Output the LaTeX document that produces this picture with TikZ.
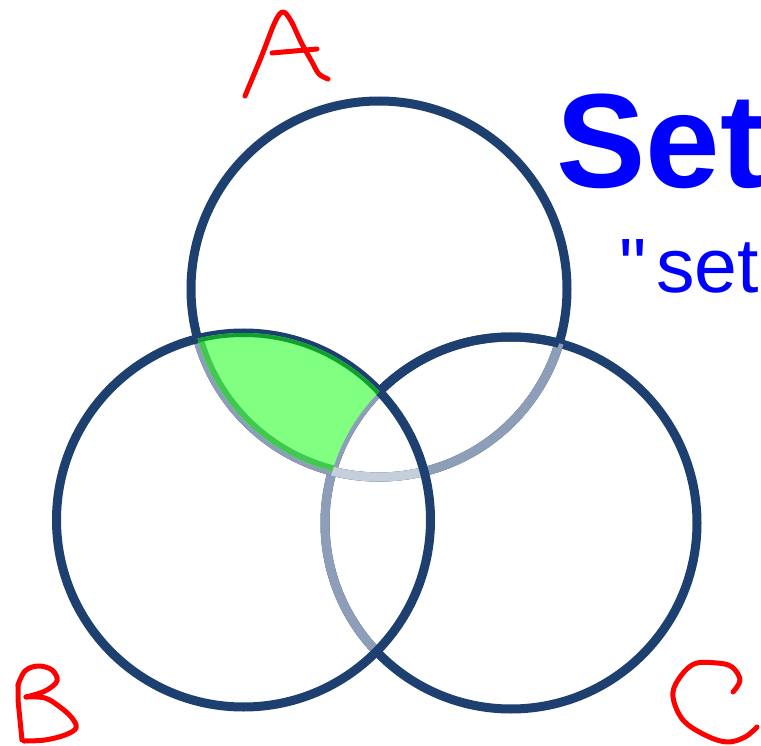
\documentclass[tikz,border=0pt]{standalone}
\usepackage{fontspec}
\setmainfont{Liberation Sans}
\newfontfamily\subfont{Liberation Sans}
\definecolor{navy}{RGB}{30,64,112}
\definecolor{midgray}{RGB}{140,158,184}
\definecolor{lightgr}{RGB}{197,207,220}
\definecolor{gfill}{RGB}{128,255,128}
\definecolor{gborder}{RGB}{64,200,80}
\definecolor{gdark}{RGB}{16,160,48}
\definecolor{tblue}{RGB}{0,0,255}
\definecolor{hred}{RGB}{255,0,0}
\tikzset{
  ring/.style={line width=9pt},
  hand/.style={draw=hred, line width=5pt, line cap=round, line join=round},
  lbl/.style={inner sep=0pt, anchor=base west, text=tblue}
}
\begin{document}
\begin{tikzpicture}[x=1pt,y=-1pt]
\useasboundingbox (0,0) rectangle (761,746);
\clip (0,0) rectangle (761,746);
\fill[white] (0,0) rectangle (761,746);
\coordinate (cA) at (379,289);
\coordinate (cB) at (243.5,520);
\coordinate (cC) at (511,523);
\def\rA{188pt}
\def\rB{187pt}
\def\rC{186pt}
% circle C (grey where inside B)
\draw[ring, navy] (cC) circle[radius=\rC];
\begin{scope}
  \clip (cB) circle[radius=\rB];
  \draw[ring, midgray] (cC) circle[radius=\rC];
\end{scope}
% circle A (grey inside C and inside B, lighter inside B and C)
\draw[ring, navy] (cA) circle[radius=\rA];
\begin{scope}
  \clip (cC) circle[radius=\rC];
  \draw[ring, midgray] (cA) circle[radius=\rA];
\end{scope}
\begin{scope}
  \clip (cB) circle[radius=\rB];
  \draw[ring, midgray] (cA) circle[radius=\rA];
\end{scope}
\begin{scope}
  \clip (cB) circle[radius=\rB];
  \clip (cC) circle[radius=\rC];
  \draw[ring, lightgr] (cA) circle[radius=\rA];
\end{scope}
% redraw C's dark arc inside A (outside B) on top of A
\begin{scope}
  \clip (cA) circle[radius=\rA];
  \begin{scope}[even odd rule]
    \clip (0,0) rectangle (761,746) (cB) circle[radius=\rB];
    \draw[ring, navy] (cC) circle[radius=\rC];
  \end{scope}
\end{scope}
% circle B
\draw[ring, navy] (cB) circle[radius=\rB];
% green region A and B minus C
\begin{scope}
  \clip (cA) circle[radius=\rA];
  \clip (cB) circle[radius=\rB];
  \begin{scope}[even odd rule]
    \clip (0,0) rectangle (761,746) (cC) circle[radius=\rC];
    \fill[gfill] (0,0) rectangle (761,746);
    \draw[line width=12pt, gborder] (cA) circle[radius=\rA];
    \draw[line width=8pt, gdark] (cB) circle[radius=\rB];
  \end{scope}
\end{scope}
% title text
\node[lbl, font=\bfseries\fontsize{134}{134}\selectfont] (title) at (556,188) {Set};
\node[lbl, font=\subfont\fontsize{77}{77}\selectfont] (sub) at (619,293) {\char34\kern10pt set};
% hand letters
\draw[hand] plot[smooth, tension=0.6] coordinates {(245,96) (262,55) (275,22) (283,12) (291,21) (301,42) (312,62) (319,74) (328,79)};
\draw[hand] (272,53) -- (317,49);
\draw[hand] (22,740) -- (18,700) -- (18,685);
\draw[hand] plot[smooth, tension=0.6] coordinates {(18,685) (25,671) (38,666) (52,670) (57,681) (45,691) (26,697)};
\draw[hand] plot[smooth, tension=0.6] coordinates {(26,697) (45,698) (60,707) (72,718) (76,728) (65,735) (45,740) (24,741)};
\draw[hand] plot[smooth, tension=0.6] coordinates {(733,692) (740,680) (732,667) (717,663) (694,664) (678,680) (673,697) (683,720) (705,735) (727,742) (745,737) (757,727)};
\end{tikzpicture}
\end{document}
